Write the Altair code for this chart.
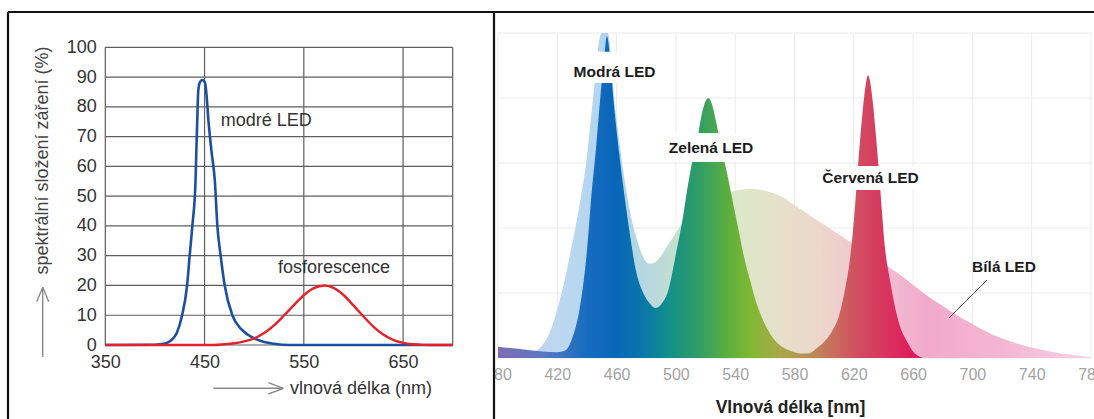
import altair as alt
import pandas as pd

# ---------------- left panel: blue LED chip + phosphor ----------------
blue_nm = [350, 400, 410, 416, 422, 427.4, 432.4, 435, 437.7, 440.9, 441.7, 442.6,
           443.6, 445, 447.7, 450.5, 451.7, 454, 457, 460.4, 462.9, 466.2, 470.3,
           478, 486.5, 493, 500, 510, 520, 535, 700]
blue_pct = [0, 0.1, 0.5, 1.5, 4, 10, 20, 30, 40, 55, 65, 75,
            85, 88, 89, 88, 85, 75, 65, 55, 40, 30, 20,
            10, 5.5, 3.6, 2.2, 1, 0.4, 0, 0]

phos_nm = [350, 460, 470, 480, 490, 500, 510, 520, 530, 540, 550, 560, 571, 580,
           590, 600, 610, 620, 630, 640, 650, 660, 670, 680, 700]
phos_pct = [0, 0, 0.25, 0.6, 1.2, 2.2, 4.0, 6.6, 9.9, 13.4, 16.7, 19.1, 20, 19.2,
            16.8, 13.3, 9.6, 6.2, 3.5, 1.7, 0.7, 0.25, 0.05, 0, 0]

left_x_ticks = [350, 450, 550, 650]
left_x_grid = [350, 450, 550, 650, 700]
left_y_ticks = [0, 10, 20, 30, 40, 50, 60, 70, 80, 90, 100]

left_notes = ["modré LED", "fosforescence"]
left_note_nm = [466.2, 523.9]
left_note_pct = [75.2, 25.9]

# ---------------- right panel: RGB LEDs vs. white LED ----------------
white_nm = [380, 390, 400, 405, 410, 415, 420, 425, 430, 435, 440, 443, 446, 448,
            450, 452, 454, 456, 458, 462, 466, 470, 474, 478, 482, 486, 490, 495,
            500, 505, 510, 520, 530, 540, 550, 560, 570, 580, 590, 600, 610, 620,
            630, 640, 650, 660, 670, 680, 690, 700, 710, 720, 730, 740, 750, 760,
            770, 780]
white_pct = [1, 1, 1.3, 2, 4, 8, 15, 24, 35, 47, 62, 75, 88, 97,
             102, 103, 100, 94, 82, 66, 53, 43, 36, 31, 29, 29.5, 31.5, 35,
             38.5, 42, 44.5, 48, 50, 51.5, 52, 51.5, 50, 47, 44, 41, 38, 35,
             32, 29, 26, 22.5, 19, 16, 13, 10.5, 8, 6, 4.5, 3.2, 2.2, 1.4,
             0.8, 0.4]

rgb_nm = [380, 390, 400, 410, 420, 425, 430, 435, 440, 443, 446, 449, 451.5, 453.5,
          455.5, 458, 462, 465.7, 469, 473, 478, 482, 486, 490, 495, 500, 505,
          507, 510, 514, 517, 520, 522, 524, 527, 530, 534, 538, 542, 546, 550,
          555, 560, 565, 570, 575, 580, 585, 590, 595, 600, 605, 610, 614, 617,
          620, 623, 626, 628, 629.6, 631, 633, 635, 637, 639, 641, 644, 647,
          651, 656, 660, 664, 668]
rgb_pct = [3.5, 3, 2.5, 2, 1.8, 2.2, 6, 15, 33, 50, 64, 80, 92, 99,
           93, 79, 62, 48.6, 38, 27, 20, 17, 15.4, 16.5, 21, 32, 44,
           50, 58, 66, 74, 79, 80, 78.5, 73, 66, 58, 49, 40, 31, 24,
           16, 10.5, 6.5, 4, 2.6, 1.8, 1.4, 1.5, 3, 5, 8, 13, 21, 29,
           42, 60, 76, 84, 87, 85, 78, 68, 57, 45, 34, 25, 17.5,
           10, 5, 2, 0.5, 0]

right_x_ticks = [380, 420, 460, 500, 540, 580, 620, 660, 700, 740, 780]
right_y_grid = [0, 20, 40, 60, 80, 100]

right_notes = ["Modrá LED", "Zelená LED", "Červená LED", "Bílá LED"]
right_note_nm = [458.6, 523.7, 631.3, 721.3]
right_note_pct = [88.0, 64.6, 55.4, 28.0]
# white panels behind the LED labels (nm / % extents)
box_nm0 = [427.0, 492.6, 595.9]
box_nm1 = [489.0, 554.7, 666.7]
box_pct0 = [84.6, 60.3, 51.7]
box_pct1 = [94.2, 69.2, 59.1]
# leader line of the white-LED label
lead_nm = [684.2, 709.9]
lead_pct = [12.3, 24.0]

W, H = 1094, 419

# ---------------- scales ----------------
xl = alt.Scale(domain=[350, 700], range=[105.3, 452.7], nice=False, zero=False)
yl = alt.Scale(domain=[0, 100], range=[345, 47.3], nice=False)
xr = alt.Scale(domain=[380, 780], range=[498, 1091], nice=False, zero=False)
yr = alt.Scale(domain=[0, 100], range=[358, 33], nice=False, clamp=True)

SANS = "Liberation Sans, Arial, Helvetica, sans-serif"
NARROW = "Liberation Sans Narrow, Arial Narrow, Liberation Sans, sans-serif"

# ---------------- right panel layers ----------------
r_vgrid = alt.Chart(pd.DataFrame({"nm": right_x_ticks})).mark_rule(
    color="#ececec", strokeWidth=1
).encode(
    x=alt.X("nm:Q", scale=xr,
            axis=alt.Axis(values=right_x_ticks, orient="bottom", offset=-61,
                          grid=False, domain=False, ticks=False,
                          labelFont=NARROW, labelFontSize=16, labelColor="#a3a3a3",
                          labelPadding=8, labelFlush=False, labelOverlap=False,
                          title="Vlnová délka [nm]", titleFont=NARROW,
                          titleFontSize=17.5, titleFontWeight="bold",
                          titleColor="#222222", titleX=790, titleY=49,
                          titleBaseline="middle", titleAnchor="start",
                          titleAlign="center", zindex=0)),
    y=alt.datum(0, scale=yr, axis=None),
    y2=alt.datum(100),
)

r_hgrid = alt.Chart(pd.DataFrame({"pct": right_y_grid})).mark_rule(
    color="#ececec", strokeWidth=1
).encode(
    y=alt.Y("pct:Q", scale=yr, axis=None),
    x=alt.datum(380, scale=xr),
    x2=alt.datum(780),
)

white_grad = alt.Gradient(
    gradient="linear", x1=0, x2=1, y1=0, y2=0,
    stops=[
        alt.GradientStop(color="#c9d2ea", offset=0.0),
        alt.GradientStop(color="#b9d8f0", offset=0.125),
        alt.GradientStop(color="#afd3ec", offset=0.2),
        alt.GradientStop(color="#b9d9dc", offset=0.2625),
        alt.GradientStop(color="#cce4c6", offset=0.325),
        alt.GradientStop(color="#dae8c6", offset=0.4),
        alt.GradientStop(color="#e6e0ca", offset=0.475),
        alt.GradientStop(color="#eed5cc", offset=0.55),
        alt.GradientStop(color="#f0c4d2", offset=0.625),
        alt.GradientStop(color="#f2aacb", offset=0.725),
        alt.GradientStop(color="#f4b6d3", offset=0.85),
        alt.GradientStop(color="#f8d2e4", offset=1.0),
    ],
)
white_area = alt.Chart(pd.DataFrame({"nm": white_nm, "pct": white_pct})).mark_area(
    color=white_grad, interpolate="monotone"
).encode(
    x=alt.X("nm:Q", scale=xr),
    y=alt.Y("pct:Q", scale=yr),
)

rgb_grad = alt.Gradient(
    gradient="linear", x1=0, x2=1, y1=0, y2=0,
    stops=[
        alt.GradientStop(color="#7d6bb5", offset=0.0),
        alt.GradientStop(color="#5a78c0", offset=0.104),
        alt.GradientStop(color="#176cc0", offset=0.208),
        alt.GradientStop(color="#0866b8", offset=0.278),
        alt.GradientStop(color="#0a7aa6", offset=0.347),
        alt.GradientStop(color="#128f8a", offset=0.399),
        alt.GradientStop(color="#2f9d66", offset=0.469),
        alt.GradientStop(color="#5cae3e", offset=0.538),
        alt.GradientStop(color="#80b832", offset=0.59),
        alt.GradientStop(color="#a8a84a", offset=0.66),
        alt.GradientStop(color="#ba8e58", offset=0.729),
        alt.GradientStop(color="#c8705e", offset=0.781),
        alt.GradientStop(color="#d24a60", offset=0.851),
        alt.GradientStop(color="#d9305e", offset=0.92),
        alt.GradientStop(color="#e0105a", offset=1.0),
    ],
)
rgb_area = alt.Chart(pd.DataFrame({"nm": rgb_nm, "pct": rgb_pct})).mark_area(
    color=rgb_grad, interpolate="monotone"
).encode(
    x=alt.X("nm:Q", scale=xr),
    y=alt.Y("pct:Q", scale=yr),
)

label_boxes = alt.Chart(pd.DataFrame({
    "a": box_nm0, "b": box_nm1, "lo": box_pct0, "hi": box_pct1,
})).mark_rect(color="white").encode(
    x=alt.X("a:Q", scale=xr), x2="b:Q",
    y=alt.Y("lo:Q", scale=yr), y2="hi:Q",
)

r_text = alt.Chart(pd.DataFrame({
    "t": right_notes, "nm": right_note_nm, "pct": right_note_pct,
})).mark_text(
    font=SANS, fontSize=15.5, fontWeight="bold", color="#1c1c1c",
    align="center", baseline="middle",
).encode(
    x=alt.X("nm:Q", scale=xr), y=alt.Y("pct:Q", scale=yr), text="t:N",
)

leader = alt.Chart(pd.DataFrame({
    "a": [lead_nm[0]], "b": [lead_nm[1]], "lo": [lead_pct[0]], "hi": [lead_pct[1]],
})).mark_rule(color="#555555", strokeWidth=1).encode(
    x=alt.X("a:Q", scale=xr), x2="b:Q",
    y=alt.Y("lo:Q", scale=yr), y2="hi:Q",
)

right = alt.layer(r_vgrid, r_hgrid, white_area, rgb_area, label_boxes, r_text, leader)

# ---------------- left panel layers ----------------
cover = alt.Chart(pd.DataFrame({"k": [0]})).mark_rect(color="white").encode(
    x=alt.value(0), x2=alt.value(494), y=alt.value(0), y2=alt.value(H),
)

l_vgrid = alt.Chart(pd.DataFrame({"nm": left_x_grid})).mark_rule(
    color="#5e5e5e", strokeWidth=1.2
).encode(
    x=alt.X("nm:Q", scale=xl,
            axis=alt.Axis(values=left_x_ticks, orient="bottom", offset=-74,
                          grid=False, domain=False, ticks=False,
                          labelFont=SANS, labelFontSize=18, labelColor="#333333",
                          labelPadding=8, labelFlush=False, labelOverlap=False,
                          title=None, zindex=1)),
    y=alt.datum(0, scale=yl,
                axis=alt.Axis(values=left_y_ticks, orient="left", offset=-105.3,
                              grid=False, domain=False, ticks=False,
                              labelFont=SANS, labelFontSize=18, labelColor="#333333",
                              labelPadding=9, labelOverlap=False, labelFlush=False,
                              title=None, zindex=1)),
    y2=alt.datum(100),
)

l_hgrid = alt.Chart(pd.DataFrame({"pct": left_y_ticks})).mark_rule(
    color="#5e5e5e", strokeWidth=1.2
).encode(
    y=alt.Y("pct:Q", scale=yl),
    x=alt.datum(350, scale=xl),
    x2=alt.datum(700),
)

blue_line = alt.Chart(pd.DataFrame({"nm": blue_nm, "pct": blue_pct})).mark_line(
    color="#1c4f9f", strokeWidth=2.6, interpolate="monotone"
).encode(x=alt.X("nm:Q", scale=xl), y=alt.Y("pct:Q", scale=yl))

phos_line = alt.Chart(pd.DataFrame({"nm": phos_nm, "pct": phos_pct})).mark_line(
    color="#e2222c", strokeWidth=2.4, interpolate="monotone"
).encode(x=alt.X("nm:Q", scale=xl), y=alt.Y("pct:Q", scale=yl))

l_text = alt.Chart(pd.DataFrame({
    "t": left_notes, "nm": left_note_nm, "pct": left_note_pct,
})).mark_text(
    font=SANS, fontSize=18, color="#333333", align="left", baseline="middle",
).encode(x=alt.X("nm:Q", scale=xl), y=alt.Y("pct:Q", scale=yl), text="t:N")

left = alt.layer(cover, l_vgrid, l_hgrid, blue_line, phos_line, l_text)

# ---------------- axis captions with arrows, panel frame ----------------
y_caption = alt.Chart(pd.DataFrame({"t": ["spektrální složení záření (%)"]})).mark_text(
    font=SANS, fontSize=18, color="#444444", angle=270,
    align="center", baseline="middle",
).encode(x=alt.value(43), y=alt.value(160.5), text="t:N")

x_caption = alt.Chart(pd.DataFrame({"t": ["vlnová délka (nm)"]})).mark_text(
    font=SANS, fontSize=18, color="#333333", align="left", baseline="middle",
).encode(x=alt.value(290), y=alt.value(388.5), text="t:N")

arrow_segments = pd.DataFrame({
    "x0": [42.7, 36.7, 48.7, 213.3, 268.3, 268.3],
    "y0": [357, 301.7, 301.7, 388.3, 382.7, 394],
    "x1": [42.7, 42.7, 42.7, 283.3, 283.3, 283.3],
    "y1": [287.3, 287.3, 287.3, 388.3, 388.3, 388.3],
})
arrows = alt.layer(*[
    alt.Chart(pd.DataFrame({"k": [i]})).mark_rule(color="#8a8a8a", strokeWidth=1.4).encode(
        x=alt.value(r.x0), x2=alt.value(r.x1), y=alt.value(r.y0), y2=alt.value(r.y1)
    )
    for i, r in enumerate(arrow_segments.itertuples())
])

frame_segments = pd.DataFrame({
    "x0": [8, 8, 494], "y0": [12, 12, 12], "x1": [1094, 8, 494], "y1": [12, H, H],
})
frame = alt.layer(*[
    alt.Chart(pd.DataFrame({"k": [i]})).mark_rule(color="#111111", strokeWidth=2.2).encode(
        x=alt.value(r.x0), x2=alt.value(r.x1), y=alt.value(r.y0), y2=alt.value(r.y1)
    )
    for i, r in enumerate(frame_segments.itertuples())
])

chart = alt.layer(right, left, y_caption, x_caption, arrows, frame).resolve_scale(
    x="independent", y="independent"
).properties(
    width=W, height=H, padding=0,
    autosize=alt.AutoSizeParams(type="none"),
    background="white",
).configure_view(stroke=None)

chart.save("out.html", embed_options={"renderer": "svg", "actions": False})
